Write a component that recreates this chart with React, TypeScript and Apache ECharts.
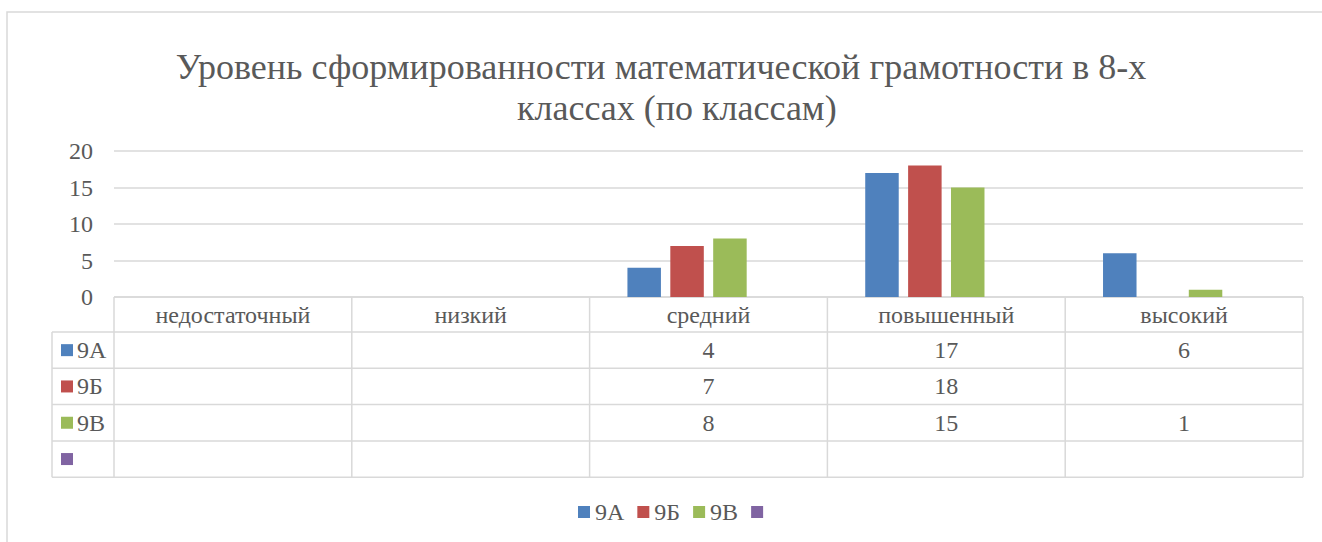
import React, { useEffect, useRef } from "react";
import * as echarts from "echarts";

const titleLines = ["Уровень сформированности математической грамотности в 8-х", "классах (по классам)"];
const categories = ["недостаточный", "низкий", "средний", "повышенный", "высокий"];
const seriesNames = ["9А", "9Б", "9В", " "];
const values9A: (number | null)[] = [null, null, 4, 17, 6];
const values9B: (number | null)[] = [null, null, 7, 18, null];
const values9V: (number | null)[] = [null, null, 8, 15, 1];
const values4: (number | null)[] = [null, null, null, null, null];
const seriesValues = [values9A, values9B, values9V, values4];
const colors = ["#4f81bd", "#c0504d", "#9bbb59", "#8064a2"];
const yTicks = { min: 0, max: 20, interval: 5 };

const FONT = "Liberation Serif";
const TEXT = "#595959";
const LINE = "#d9d9d9";
const FS = 24;

const GRID_LEFT = 114;
const GRID_TOP = 151;
const GRID_W = 1189;
const GRID_H = 146;
const TABLE_LEFT = 52;
const HEADER_H = 35;
const ROW_H = 36.3;

export default function App() {
  const ref = useRef<HTMLDivElement>(null);
  useEffect(() => {
    if (!ref.current) return;
    const chart = echarts.init(ref.current, null, { renderer: "svg" });
    const colW = GRID_W / categories.length;
    const bottom0 = GRID_TOP + GRID_H;
    const headerBottom = bottom0 + HEADER_H;
    const tableBottom = headerBottom + ROW_H * seriesNames.length;
    const graphics: any[] = [];
    graphics.push({
      type: "rect",
      shape: { x: 7, y: 12, width: 1340, height: 600 },
      style: { fill: "none", stroke: LINE, lineWidth: 1.5 },
      silent: true,
    });
    graphics.push({
      type: "line",
      shape: { x1: GRID_LEFT, y1: bottom0, x2: GRID_LEFT + GRID_W, y2: bottom0 },
      style: { stroke: LINE, lineWidth: 1.5 },
    });
    for (let r = 0; r <= seriesNames.length; r++) {
      const y = headerBottom + r * ROW_H;
      graphics.push({
        type: "line",
        shape: { x1: TABLE_LEFT, y1: y, x2: GRID_LEFT + GRID_W, y2: y },
        style: { stroke: LINE, lineWidth: 1.5 },
      });
    }
    graphics.push({
      type: "line",
      shape: { x1: TABLE_LEFT, y1: headerBottom, x2: TABLE_LEFT, y2: tableBottom },
      style: { stroke: LINE, lineWidth: 1.5 },
    });
    for (let c = 0; c <= categories.length; c++) {
      const x = GRID_LEFT + c * colW;
      graphics.push({
        type: "line",
        shape: { x1: x, y1: bottom0, x2: x, y2: tableBottom },
        style: { stroke: LINE, lineWidth: 1.5 },
      });
    }
    seriesNames.forEach((name, r) => {
      const cy = headerBottom + r * ROW_H + ROW_H / 2;
      graphics.push({
        type: "rect",
        shape: { x: 61, y: cy - 6, width: 12, height: 12 },
        style: { fill: colors[r] },
      });
      graphics.push({
        type: "text",
        x: 77,
        y: cy,
        style: {
          text: name,
          fontSize: FS,
          fontFamily: FONT,
          fill: TEXT,
          align: "left",
          verticalAlign: "middle",
        },
      });
      seriesValues[r].forEach((v, c) => {
        if (v === null || v === undefined) return;
        graphics.push({
          type: "text",
          x: GRID_LEFT + c * colW + colW / 2,
          y: cy,
          style: {
            text: String(v),
            fontSize: FS,
            fontFamily: FONT,
            fill: TEXT,
            align: "center",
            verticalAlign: "middle",
          },
        });
      });
    });

    const titleStyle = {
      fontSize: 36,
      lineHeight: 42,
      fontWeight: "normal",
      color: TEXT,
      fontFamily: FONT,
    };

    const option: any = {
      animation: false,
      color: colors,
      title: [
        { text: titleLines[0], left: "center", top: 40.5, textStyle: titleStyle },
        { text: titleLines[1], left: 512, top: 81.5, textStyle: titleStyle },
      ],
      grid: { left: GRID_LEFT, top: GRID_TOP, width: GRID_W, height: GRID_H, containLabel: false },
      legend: {
        left: 573,
        top: 495,
        icon: "rect",
        itemWidth: 12,
        itemHeight: 12,
        itemGap: 13,
        data: seriesNames,
        textStyle: { fontSize: FS, lineHeight: 24, color: TEXT, fontFamily: FONT },
      },
      xAxis: {
        type: "category",
        data: categories,
        axisLine: { show: false },
        axisTick: { show: false },
        axisLabel: {
          margin: 6,
          fontSize: FS,
          lineHeight: 24,
          color: TEXT,
          fontFamily: FONT,
          interval: 0,
        },
      },
      yAxis: {
        type: "value",
        min: yTicks.min,
        max: yTicks.max,
        interval: yTicks.interval,
        axisLine: { show: false },
        axisTick: { show: false },
        axisLabel: { margin: 21, fontSize: FS, color: TEXT, fontFamily: FONT },
        splitLine: { lineStyle: { color: LINE, width: 1.5 } },
      },
      series: seriesNames.map((name, i) => ({
        name,
        type: "bar",
        data: seriesValues[i],
        barWidth: 33.5,
        barGap: "28%",
        itemStyle: { color: colors[i] },
      })),
      graphic: graphics,
    };
    chart.setOption(option);
    return () => chart.dispose();
  }, []);
  return (
    <div
      ref={ref}
      style={{ position: "absolute", left: 0, top: 0, width: 1322, height: 542, background: "#fff" }}
    />
  );
}
